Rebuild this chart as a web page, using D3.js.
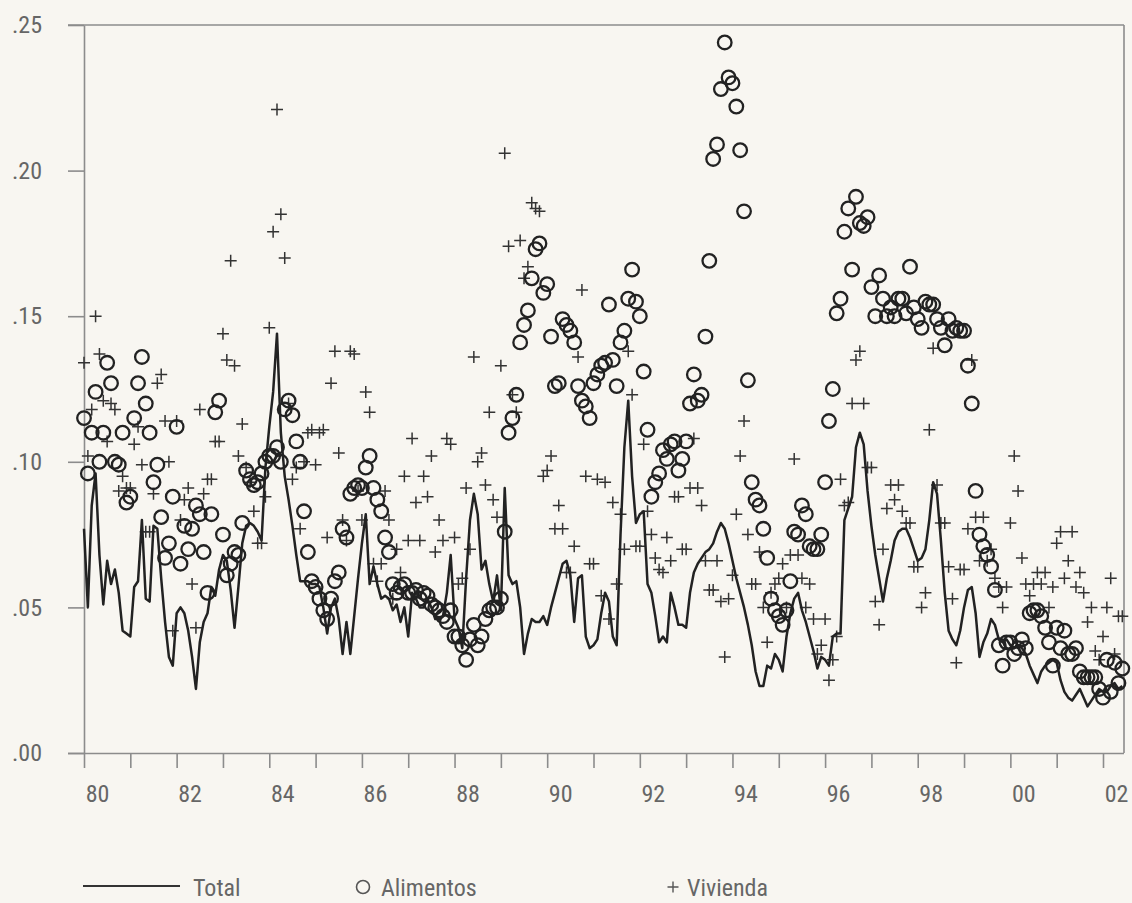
<!DOCTYPE html>
<html><head><meta charset="utf-8">
<script src="https://cdn.jsdelivr.net/npm/d3@7"></script>
<style>
html,body{margin:0;padding:0;background:#f8f6f1;}
svg{display:block;}
text{font-family:"Liberation Sans Narrow","Roboto Condensed","DejaVu Sans Condensed",sans-serif;fill:#666;}
</style></head><body>
<svg id="chart" width="1132" height="903"></svg>
<script>
const startYear = 1980;
// monthly values, Jan 1980 .. Jun 2002
const total = [
/*1980*/ .077,.050,.085,.096,.068,.051,.066,.058,.063,.055,.042,.041,
/*1981*/ .040,.057,.059,.080,.053,.052,.078,.077,.060,.045,.033,.030,
/*1982*/ .048,.050,.048,.042,.033,.022,.038,.045,.048,.057,.054,.063,
/*1983*/ .068,.066,.056,.043,.057,.072,.078,.079,.078,.076,.073,.098,
/*1984*/ .112,.124,.144,.110,.095,.087,.078,.068,.059,.059,.059,.058,
/*1985*/ .058,.057,.050,.041,.050,.053,.046,.034,.045,.034,.047,.060,
/*1986*/ .072,.082,.058,.064,.058,.053,.054,.053,.049,.051,.045,.050,
/*1987*/ .040,.055,.053,.050,.050,.053,.050,.046,.046,.047,.055,.068,
/*1988*/ .046,.043,.036,.060,.080,.089,.082,.063,.066,.058,.052,.061,
/*1989*/ .049,.091,.061,.058,.059,.050,.034,.041,.046,.045,.045,.047,
/*1990*/ .044,.050,.055,.060,.065,.066,.061,.045,.060,.061,.040,.036,
/*1991*/ .037,.039,.048,.055,.052,.040,.037,.075,.105,.121,.095,.079,
/*1992*/ .082,.083,.058,.055,.047,.038,.040,.038,.055,.050,.044,.044,
/*1993*/ .043,.055,.062,.065,.067,.069,.070,.072,.076,.079,.077,.072,
/*1994*/ .066,.060,.055,.050,.044,.037,.028,.023,.023,.030,.029,.034,
/*1995*/ .032,.028,.040,.048,.053,.055,.049,.045,.040,.035,.029,.033,
/*1996*/ .032,.030,.040,.041,.041,.080,.084,.088,.105,.110,.106,.090,
/*1997*/ .078,.068,.060,.052,.060,.066,.073,.076,.077,.077,.074,.070,
/*1998*/ .066,.067,.070,.080,.093,.089,.073,.055,.042,.039,.037,.042,
/*1999*/ .050,.056,.057,.048,.033,.038,.041,.046,.044,.039,.038,.039,
/*2000*/ .037,.036,.037,.036,.034,.030,.027,.024,.028,.030,.031,.032,
/*2001*/ .031,.025,.021,.019,.018,.020,.022,.019,.016,.018,.020,.022,
/*2002*/ .021,.021,.023,.024,.022,.023
];
const alimentos = [
/*1980*/ .115,.096,.110,.124,.100,.110,.134,.127,.100,.099,.110,.086,
/*1981*/ .088,.115,.127,.136,.120,.110,.093,.099,.081,.067,.072,.088,
/*1982*/ .112,.065,.078,.070,.077,.085,.082,.069,.055,.082,.117,.121,
/*1983*/ .075,.061,.065,.069,.068,.079,.097,.094,.092,.093,.096,.100,
/*1984*/ .102,.102,.105,.100,.118,.121,.116,.107,.100,.083,.069,.059,
/*1985*/ .057,.053,.049,.046,.053,.059,.062,.077,.074,.089,.091,.092,
/*1986*/ .091,.098,.102,.091,.087,.083,.074,.069,.058,.055,.057,.058,
/*1987*/ .055,.055,.056,.053,.055,.054,.051,.050,.049,.047,.045,.049,
/*1988*/ .040,.040,.037,.032,.039,.044,.037,.040,.046,.049,.050,.050,
/*1989*/ .053,.076,.110,.115,.123,.141,.147,.152,.163,.173,.175,.158,
/*1990*/ .161,.143,.126,.127,.149,.147,.145,.141,.126,.121,.119,.115,
/*1991*/ .127,.130,.133,.134,.154,.135,.126,.141,.145,.156,.166,.155,
/*1992*/ .150,.131,.111,.088,.093,.096,.104,.101,.106,.107,.097,.101,
/*1993*/ .107,.120,.130,.121,.123,.143,.169,.204,.209,.228,.244,.232,
/*1994*/ .230,.222,.207,.186,.128,.093,.087,.085,.077,.067,.053,.049,
/*1995*/ .047,.044,.049,.059,.076,.075,.085,.082,.071,.070,.070,.075,
/*1996*/ .093,.114,.125,.151,.156,.179,.187,.166,.191,.182,.181,.184,
/*1997*/ .160,.150,.164,.156,.150,.153,.150,.156,.156,.151,.167,.153,
/*1998*/ .149,.146,.155,.154,.154,.149,.146,.140,.149,.145,.146,.145,
/*1999*/ .145,.133,.120,.090,.075,.071,.068,.064,.056,.037,.030,.038,
/*2000*/ .038,.034,.036,.039,.036,.048,.049,.049,.047,.043,.038,.030,
/*2001*/ .043,.036,.042,.034,.034,.036,.028,.026,.026,.026,.026,.022,
/*2002*/ .019,.032,.021,.031,.024,.029
];
const vivienda = [
/*1980*/ .134,.102,.118,.150,.137,.121,.107,.120,.118,.090,.095,.091,
/*1981*/ .091,.106,.112,.099,.076,.076,.089,.127,.130,.114,.100,.042,
/*1982*/ .114,.080,.087,.091,.058,.043,.118,.089,.094,.094,.107,.107,
/*1983*/ .144,.135,.169,.133,.102,.113,.098,.093,.083,.072,.072,.088,
/*1984*/ .146,.179,.221,.185,.170,.120,.094,.098,.077,.100,.110,.111,
/*1985*/ .099,.110,.111,.074,.127,.138,.103,.080,.073,.138,.137,.090,
/*1986*/ .080,.124,.117,.065,.059,.065,.090,.080,.053,.070,.062,.095,
/*1987*/ .073,.108,.086,.073,.095,.088,.102,.069,.080,.073,.108,.106,
/*1988*/ .074,.058,.060,.091,.070,.136,.100,.103,.092,.117,.087,.081,
/*1989*/ .133,.206,.174,.123,.117,.176,.163,.167,.189,.187,.186,.095,
/*1990*/ .097,.102,.077,.085,.077,.062,.062,.071,.136,.159,.095,.065,
/*1991*/ .065,.094,.054,.093,.046,.086,.058,.082,.070,.138,.123,.071,
/*1992*/ .071,.106,.083,.075,.067,.063,.062,.074,.066,.088,.088,.070,
/*1993*/ .070,.091,.108,.091,.085,.066,.056,.056,.066,.052,.033,.053,
/*1994*/ .061,.082,.102,.114,.075,.058,.058,.069,.050,.038,.055,.058,
/*1995*/ .060,.065,.050,.068,.101,.068,.060,.050,.058,.046,.034,.037,
/*1996*/ .046,.025,.032,.040,.094,.085,.086,.120,.135,.138,.120,.098,
/*1997*/ .098,.052,.044,.070,.084,.092,.087,.092,.083,.079,.079,.064,
/*1998*/ .064,.050,.055,.111,.139,.092,.079,.079,.064,.053,.031,.063,
/*1999*/ .063,.077,.135,.081,.066,.081,.066,.070,.060,.057,.050,.057,
/*2000*/ .079,.102,.090,.067,.058,.054,.058,.062,.058,.062,.050,.057,
/*2001*/ .072,.076,.060,.066,.076,.057,.062,.055,.045,.050,.035,.032,
/*2002*/ .040,.050,.060,.034,.047,.047
];
const yTicks = [0, 0.05, 0.10, 0.15, 0.20, 0.25];
const yTickLabels = [".00", ".05", ".10", ".15", ".20", ".25"];
const xTickYears = d3.range(1980, 2003);
const xLabelYears = [1980,1982,1984,1986,1988,1990,1992,1994,1996,1998,2000,2002];
const xLabelText = ["80","82","84","86","88","90","92","94","96","98","00","02"];
const seriesNames = ["Total", "Alimentos", "Vivienda"];

const svg = d3.select("#chart");
const x = d3.scaleLinear().domain([1980, 2002]).range([84, 1103]);
const y = d3.scaleLinear().domain([0, 0.25]).range([753, 25]);
const tOf = i => startYear + i / 12;
const frameColor = "#8c8c8c";
const fontFam = '"Liberation Sans Narrow","Roboto Condensed","DejaVu Sans Condensed",sans-serif';

// frame
const frame = svg.append("g").attr("stroke", frameColor).attr("stroke-width", 1.6).attr("fill", "none");
frame.append("line").attr("x1", 68).attr("x2", 1124).attr("y1", y(0.25)).attr("y2", y(0.25));
frame.append("line").attr("x1", 1124).attr("x2", 1124).attr("y1", y(0.25)).attr("y2", y(0));

// y axis
const yAxis = svg.append("g").attr("transform", "translate(84,0)")
  .call(d3.axisLeft(y).tickValues(yTicks).tickSize(16).tickSizeOuter(0).tickPadding(26)
    .tickFormat((d, i) => yTickLabels[i]));
yAxis.select(".domain").attr("stroke", frameColor).attr("stroke-width", 1.6);
yAxis.selectAll(".tick line").attr("stroke", frameColor).attr("stroke-width", 1.6);
yAxis.selectAll(".tick text").attr("font-size", 24).attr("fill", "#666").attr("font-family", fontFam);

// x axis
const xAxis = svg.append("g").attr("transform", `translate(0,${y(0)})`)
  .call(d3.axisBottom(x).tickValues(xTickYears).tickSize(15).tickSizeOuter(0).tickPadding(17)
    .tickFormat(d => { const k = xLabelYears.indexOf(d); return k >= 0 ? xLabelText[k] : ""; }));
xAxis.select(".domain").attr("d", `M68,0.5H1124`).attr("stroke", frameColor).attr("stroke-width", 1.6);
xAxis.selectAll(".tick line").attr("stroke", frameColor).attr("stroke-width", 1.6);
xAxis.selectAll(".tick text").attr("font-size", 24).attr("fill", "#666").attr("x", 13).attr("font-family", fontFam);

const ink = "#222";
// Vivienda plus marks
svg.append("g").selectAll("path.plus").data(vivienda).join("path")
  .attr("class", "plus")
  .attr("transform", (d, i) => `translate(${x(tOf(i))},${y(d)})`)
  .attr("d", "M-6,0H6M0,-6V6")
  .attr("stroke", "#333").attr("stroke-width", 1.5).attr("fill", "none");

// Alimentos circles
svg.append("g").selectAll("circle").data(alimentos).join("circle")
  .attr("cx", (d, i) => x(tOf(i))).attr("cy", d => y(d)).attr("r", 6.8)
  .attr("fill", "none").attr("stroke", ink).attr("stroke-width", 2.3);

// Total line
svg.append("path").datum(total)
  .attr("d", d3.line().x((d, i) => x(tOf(i))).y(d => y(d)))
  .attr("fill", "none").attr("stroke", ink).attr("stroke-width", 2.5).attr("stroke-linejoin", "round");

// legend
const lg = svg.append("g");
const ly = 886;
lg.append("line").attr("x1", 83).attr("x2", 180).attr("y1", ly).attr("y2", ly)
  .attr("stroke", "#333").attr("stroke-width", 2.2);
lg.append("text").attr("x", 193).attr("y", ly + 10).attr("font-size", 24).text(seriesNames[0]);
lg.append("circle").attr("cx", 363).attr("cy", ly + 1).attr("r", 6.5)
  .attr("fill", "none").attr("stroke", "#555").attr("stroke-width", 1.6);
lg.append("text").attr("x", 381).attr("y", ly + 10).attr("font-size", 24).text(seriesNames[1]);
lg.append("path").attr("transform", `translate(673,${ly + 1})`).attr("d", "M-5.5,0H5.5M0,-5.5V5.5")
  .attr("stroke", "#555").attr("stroke-width", 1.4);
lg.append("text").attr("x", 687).attr("y", ly + 10).attr("font-size", 24).text(seriesNames[2]);
</script>
</body></html>
